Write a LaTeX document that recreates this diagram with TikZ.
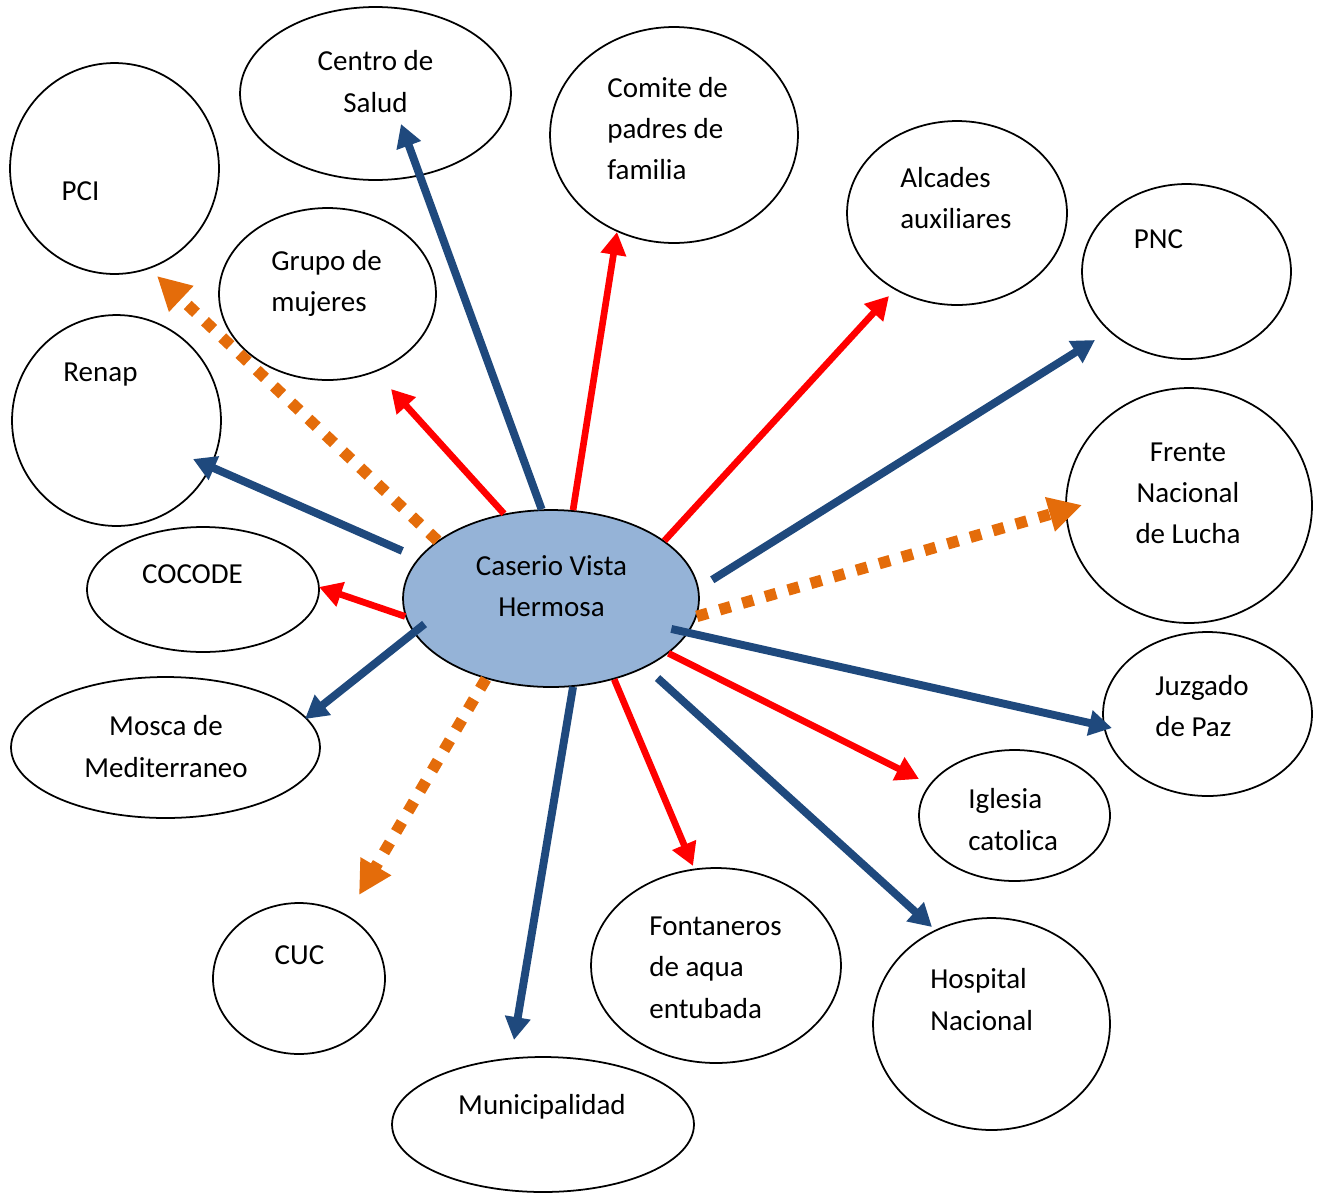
\documentclass[tikz,border=0pt]{standalone}
\usepackage{fontspec}
\setmainfont{Carlito}
\usepackage{tikz}
\usetikzlibrary{shapes}
\usetikzlibrary{arrows.meta}
\definecolor{darkblue}{RGB}{31,73,125}
\definecolor{orangeline}{RGB}{228,108,10}
\definecolor{hubfill}{RGB}{149,179,215}

\begin{document}
\begin{tikzpicture}[x=0.02cm,y=-0.02cm,
    bubble/.style={draw,ellipse,line width=1pt,inner sep=0pt},
    txt/.style={inner sep=0pt,font=\fontsize{16.5}{23.5}\selectfont},
    bluearrow/.style={darkblue,line width=4.5pt,-{Triangle[length=13pt,width=14pt]}},
    redarrow/.style={red,line width=3.8pt,-{Triangle[length=13pt,width=14pt]}},
    dotarrow/.style={orangeline,line width=6.5pt,dash pattern=on 6.5pt off 7pt,-{Triangle[length=19pt,width=19pt]}}]
      \useasboundingbox (0,0) rectangle (1318,1194);
      % bubbles
      \node[bubble,minimum width=4.18cm,minimum height=4.22cm] (pci) at (114.5,168.5) {};
      \node[bubble,minimum width=5.42cm,minimum height=3.46cm] (salud) at (375.5,93.5) {};
      \node[bubble,minimum width=4.96cm,minimum height=4.32cm] (comite) at (674,135) {};
      \node[bubble,minimum width=4.40cm,minimum height=3.68cm] (alcades) at (957,213) {};
      \node[bubble,minimum width=4.18cm,minimum height=3.50cm] (pnc) at (1186.5,271.5) {};
      \node[bubble,minimum width=4.34cm,minimum height=3.44cm] (grupo) at (327.5,294) {};
      \node[bubble,minimum width=4.18cm,minimum height=4.22cm] (renap) at (116.5,420.5) {};
      \node[bubble,minimum width=4.92cm,minimum height=4.70cm] (frente) at (1189,505.5) {};
      \node[bubble,minimum width=4.64cm,minimum height=2.50cm] (cocode) at (203,589.5) {};
      \node[bubble,minimum width=6.18cm,minimum height=2.82cm] (mosca) at (165.5,747.5) {};
      \node[bubble,minimum width=4.18cm,minimum height=3.28cm] (juzgado) at (1207.5,714) {};
      \node[bubble,minimum width=3.82cm,minimum height=2.62cm] (iglesia) at (1014.5,815.5) {};
      \node[bubble,minimum width=3.44cm,minimum height=3.02cm] (cuc) at (299,978.5) {};
      \node[bubble,minimum width=5.00cm,minimum height=3.90cm] (fontaneros) at (716,965.5) {};
      \node[bubble,minimum width=4.74cm,minimum height=4.24cm] (hospital) at (991.5,1024) {};
      \node[bubble,minimum width=6.04cm,minimum height=2.70cm] (muni) at (543,1124.5) {};
      \node[bubble,fill=hubfill,minimum width=5.92cm,minimum height=3.54cm] (hub) at (551,598.5) {};
      % texts
      \node[txt] (tpci) at (80.5,191) {PCI};
      \node[txt,align=center] (tsalud) at (375.5,81.5) {Centro de\\Salud};
      \node[txt,align=left,anchor=west] (tcomite) at (607,128.5) {Comite de\\padres de\\familia};
      \node[txt,align=left,anchor=west] (talcades) at (900,198) {Alcades\\auxiliares};
      \node[txt] (tpnc) at (1158.5,239) {PNC};
      \node[txt,align=left,anchor=west] (tgrupo) at (271,283.5) {Grupo de\\mujeres};
      \node[txt] (trenap) at (100.5,375) {Renap};
      \node[txt,align=center] (tfrente) at (1188,493.5) {Frente\\Nacional\\de Lucha};
      \node[txt] (tcocode) at (192.5,574) {COCODE};
      \node[txt,align=center] (tmosca) at (166,746.5) {Mosca de\\Mediterraneo};
      \node[txt,align=left,anchor=west] (tjuzgado) at (1155,706) {Juzgado\\de Paz};
      \node[txt,align=left,anchor=west] (tiglesia) at (968,819.5) {Iglesia\\catolica};
      \node[txt] (tcuc) at (299.5,955) {CUC};
      \node[txt,align=left,anchor=west] (tfontaneros) at (649,967.5) {Fontaneros\\de aqua\\entubada};
      \node[txt,align=left,anchor=west] (thospital) at (930,999.5) {Hospital\\Nacional};
      \node[txt] (tmuni) at (542,1107) {Municipalidad};
      \node[txt,align=center] (thub) at (551.5,586) {Caserio Vista\\Hermosa};
      % arrow tips
      \coordinate (psalud) at (401,124);
      \coordinate (pcomite) at (617,232);
      \coordinate (palcades) at (889,296);
      \coordinate (ppnc) at (1095,340);
      \coordinate (pfrente) at (1082,505);
      \coordinate (pjuzgado) at (1112,728);
      \coordinate (piglesia) at (919,779);
      \coordinate (phospital) at (932,927);
      \coordinate (pfontaneros) at (693,866);
      \coordinate (pmuni) at (514,1040);
      \coordinate (pcuc) at (359,895);
      \coordinate (pmosca) at (305,719);
      \coordinate (pcocode) at (319,587);
      \coordinate (prenap) at (193,459);
      \coordinate (ppci) at (157,276);
      \coordinate (pgrupo) at (391,389);
      % arrows
      \draw[bluearrow] (hub.96) -- (psalud);
      \draw[redarrow] (hub.76) -- (pcomite);
      \draw[redarrow] (hub.27) -- (palcades);
      \draw[bluearrow,shorten <=9pt] (hub.4) -- (ppnc);
      \draw[dotarrow] (hub.-7.5) -- (pfrente);
      \draw[bluearrow,shorten <=-10pt] (hub.-14) -- (pjuzgado);
      \draw[redarrow] (hub.-25) -- (piglesia);
      \draw[bluearrow,shorten <=9pt] (hub.-36.5) -- (phospital);
      \draw[redarrow] (hub.-52.5) -- (pfontaneros);
      \draw[bluearrow] (hub.-76) -- (pmuni);
      \draw[dotarrow] (hub.-129.5) -- (pcuc);
      \draw[bluearrow,shorten <=-8pt] (hub.-166) -- (pmosca);
      \draw[redarrow] (hub.-173) -- (pcocode);
      \draw[bluearrow,shorten <=10pt] (hub.163) -- (prenap);
      \draw[dotarrow] (hub.153) -- (ppci);
      \draw[redarrow] (hub.119) -- (pgrupo);
\end{tikzpicture}
\end{document}
